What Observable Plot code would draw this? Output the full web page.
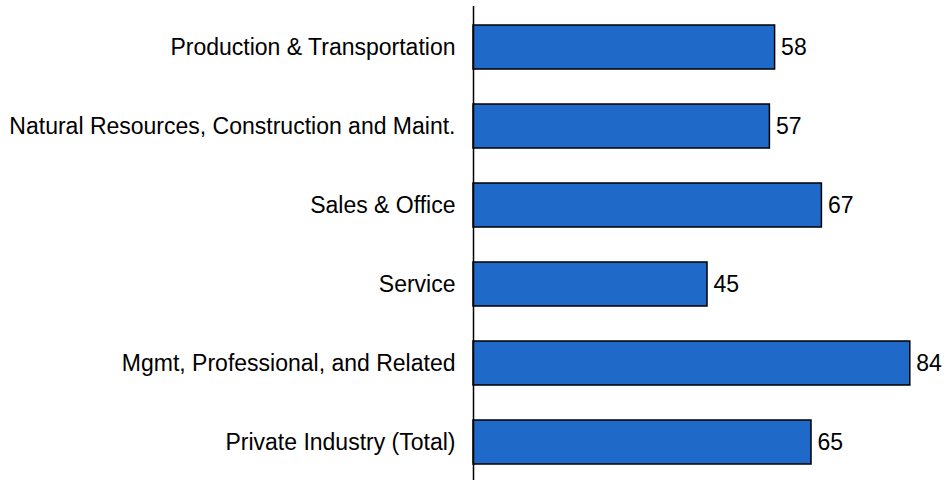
<!DOCTYPE html>
<html>
<head>
<meta charset="utf-8">
<script src="https://cdn.jsdelivr.net/npm/d3@7"></script>
<script src="https://cdn.jsdelivr.net/npm/@observablehq/plot@0.6"></script>
<style>
  html, body { margin: 0; padding: 0; background: #fff; }
</style>
</head>
<body>
<div id="chart"></div>
<script>
const categories = [
  "Production & Transportation",
  "Natural Resources, Construction and Maint.",
  "Sales & Office",
  "Service",
  "Mgmt, Professional, and Related",
  "Private Industry (Total)"
];
const values = [58, 57, 67, 45, 84, 65];

const data = categories.map((c, i) => ({category: c, value: values[i]}));

const chart = Plot.plot({
  width: 946,
  height: 480,
  marginLeft: 473,
  marginRight: 5,
  marginTop: 6,
  marginBottom: 0,
  style: {fontFamily: "Arial, 'Liberation Sans', sans-serif", background: "#fff"},
  x: {domain: [0, 90], axis: null},
  y: {domain: categories, range: [6, 482], paddingInner: 0.446, paddingOuter: 0.227, label: null},
  marks: [
    Plot.barX(data, {x: "value", y: "category", fill: "#1f6ac8", stroke: "#000", strokeWidth: 1.5}),
    Plot.text(data, {x: "value", y: "category", text: d => String(d.value), textAnchor: "start", dx: 6, fontSize: 23, fill: "#000"}),
    Plot.axisY({tickSize: 0, tickPadding: 18, fontSize: 23, label: null, color: "#000"}),
    Plot.ruleX([0], {stroke: "#000", strokeWidth: 1.5})
  ]
});
document.getElementById("chart").appendChild(chart);
</script>
</body>
</html>
